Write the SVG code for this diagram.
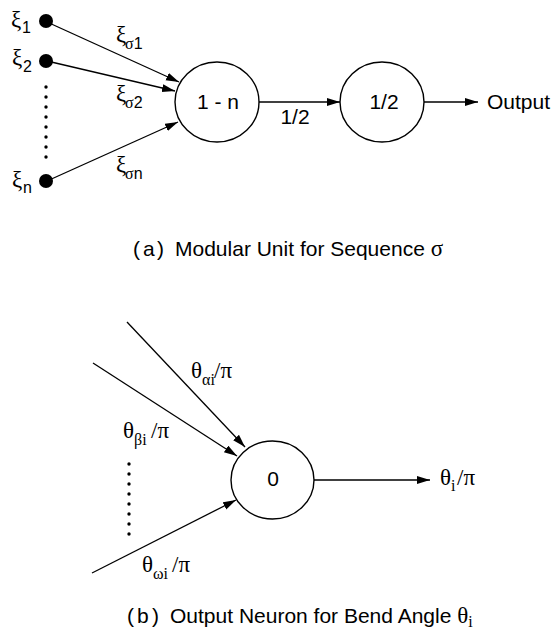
<svg xmlns="http://www.w3.org/2000/svg" width="551" height="630" viewBox="0 0 551 630">
  <style>
    .node { fill: #fff; stroke: #000; stroke-width: 1.4; }
    .edge { stroke: #000; stroke-width: 1.3; fill: none; marker-end: url(#arrow); }
    text { font-family: "Liberation Sans", Arial, sans-serif; fill: #000; }
    .lbl { font-size: 21px; }
    .gr { font-family: "Liberation Serif", "Times New Roman", serif; }
    .big { font-size: 23px; }
    .sub { font-size: 16px; }
  </style>
  <defs>
    <marker id="arrow" markerUnits="userSpaceOnUse" markerWidth="14" markerHeight="10" refX="13" refY="4" orient="auto">
      <path d="M0,0 L13,4 L0,8 Z" fill="#000"/>
    </marker>
  </defs>

  <!-- connectors -->
  <g id="connectors">
    <line class="edge" x1="47" y1="22" x2="179" y2="82"/>
    <line class="edge" x1="47" y1="61" x2="175" y2="91"/>
    <line class="edge" x1="47" y1="181" x2="178" y2="122"/>
    <line class="edge" x1="259" y1="102" x2="340" y2="102"/>
    <line class="edge" x1="424" y1="102" x2="478" y2="102"/>
    <line class="edge" x1="127" y1="322" x2="245" y2="447"/>
    <line class="edge" x1="93" y1="363" x2="237" y2="456"/>
    <line class="edge" x1="92" y1="573" x2="236" y2="500"/>
    <line class="edge" x1="314" y1="480" x2="430" y2="480"/>
  </g>

  <!-- (a) inputs -->
  <g id="input-1">
    <circle cx="46" cy="21" r="7" fill="#000"/>
    <text x="11" y="27" class="big gr">ξ</text><text x="22" y="33" class="sub">1</text>
  </g>
  <g id="input-2">
    <circle cx="46" cy="61" r="7" fill="#000"/>
    <text x="12" y="65" class="big gr">ξ</text><text x="23" y="72" class="sub">2</text>
  </g>
  <g id="input-n">
    <circle cx="46" cy="181" r="7" fill="#000"/>
    <text x="12" y="187" class="big gr">ξ</text><text x="23" y="193" class="sub">n</text>
  </g>
  <g id="dots-a" fill="#000">
    <circle cx="46" cy="87" r="1.7"/><circle cx="46" cy="97" r="1.7"/>
    <circle cx="46" cy="107" r="1.7"/><circle cx="46" cy="117" r="1.7"/>
    <circle cx="46" cy="127" r="1.7"/><circle cx="46" cy="137" r="1.7"/>
    <circle cx="46" cy="147" r="1.7"/><circle cx="46" cy="157" r="1.7"/>
  </g>

  <!-- (a) weight labels -->
  <g id="weights-a">
    <text x="116" y="42" class="big gr">ξ</text><text x="125" y="49" class="sub"><tspan class="gr">σ</tspan>1</text>
    <text x="116" y="101" class="big gr">ξ</text><text x="125" y="108" class="sub"><tspan class="gr">σ</tspan>2</text>
    <text x="116" y="172" class="big gr">ξ</text><text x="125" y="179" class="sub"><tspan class="gr">σ</tspan>n</text>
    <text x="295" y="124" class="lbl" text-anchor="middle">1/2</text>
  </g>

  <!-- (a) units -->
  <g id="unit-sum">
    <ellipse class="node" cx="217" cy="102" rx="42" ry="40"/>
    <text x="218" y="109" class="lbl" text-anchor="middle">1 - n</text>
  </g>
  <g id="unit-half">
    <ellipse class="node" cx="382" cy="102" rx="42" ry="40"/>
    <text x="384" y="109" class="lbl" text-anchor="middle">1/2</text>
  </g>
  <g id="output-a">
    <text x="487" y="109" class="lbl">Output</text>
  </g>

  <g id="caption-a" class="lbl">
    <text x="133" y="256">(</text><text x="143" y="256">a</text><text x="157" y="256">)</text>
    <text x="175" y="256">Modular Unit for Sequence <tspan class="gr" font-size="23">σ</tspan></text>
  </g>

  <!-- (b) output neuron -->
  <g id="dots-b" fill="#000">
    <circle cx="129" cy="464" r="1.7"/><circle cx="129" cy="474" r="1.7"/>
    <circle cx="129" cy="484" r="1.7"/><circle cx="129" cy="494" r="1.7"/>
    <circle cx="129" cy="504" r="1.7"/><circle cx="129" cy="514" r="1.7"/>
    <circle cx="129" cy="524" r="1.7"/><circle cx="129" cy="534" r="1.7"/>
  </g>
  <g id="weights-b">
    <text x="191" y="378" class="big gr">θ</text><text x="202" y="385" class="sub gr">αi</text><text x="214" y="378" class="big gr">/π</text>
    <text x="123" y="438" class="big gr">θ</text><text x="134" y="445" class="sub gr">βi</text><text x="151" y="438" class="big gr">/π</text>
    <text x="142" y="572" class="big gr">θ</text><text x="153" y="579" class="sub gr">ωi</text><text x="172" y="572" class="big gr">/π</text>
  </g>
  <g id="neuron-b">
    <ellipse class="node" cx="272.5" cy="480" rx="41.5" ry="39"/>
    <text x="273" y="486" class="lbl" text-anchor="middle">0</text>
  </g>
  <g id="output-b">
    <text x="440" y="485" class="big gr">θ</text><text x="451" y="491" class="sub gr">i</text><text x="457" y="485" class="big gr">/π</text>
  </g>

  <g id="caption-b" class="lbl">
    <text x="127" y="623">(</text><text x="137" y="623">b</text><text x="152" y="623">)</text>
    <text x="170" y="623">Output Neuron for Bend Angle <tspan class="gr" font-size="23">θ</tspan><tspan class="sub gr" dy="4">i</tspan></text>
  </g>
</svg>
